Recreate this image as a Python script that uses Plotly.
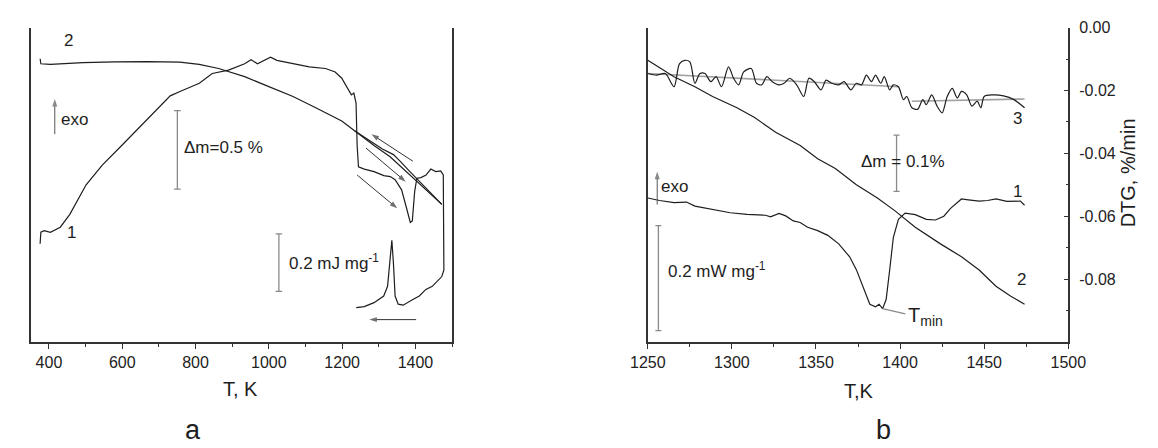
import plotly.graph_objects as go

# ---------------- data: panel a (arbitrary signal units) ----------------
a_dsc_T = [376, 378, 387, 404, 431, 457, 501.5, 545.6, 598.6, 633.9, 669, 704.5, 731, 757.5, 810.4,
           845.7, 890, 934, 951.5, 969, 987, 1004.6, 1022, 1066, 1110.5, 1154.6, 1181, 1199, 1217, 1225.2,
           1232, 1238, 1241, 1244.6, 1260.5, 1287, 1313.7, 1331.4, 1344.6, 1362.3, 1375.5, 1386, 1391.5, 1398, 1404,
           1415, 1429, 1442, 1455.5, 1468.8, 1476, 1477.7, 1472, 1463.6, 1446, 1428.5, 1410.6, 1393, 1366.5, 1353,
           1344.6, 1340, 1335.7, 1329.8, 1324, 1313.5, 1287, 1260.5, 1238.5]
a_dsc_y = [31.25, 34.9, 35.4, 34.9, 36.5, 40.6, 50, 56.25, 62.5, 66.7, 70.8, 75, 78.3, 79.7, 82.3,
           85.4, 86.5, 88.5, 89.8, 88.5, 89.6, 90.6, 89.6, 88.5, 87.5, 87, 85.9, 83.9, 80.2, 78.6,
           79.2, 76, 62.5, 55.7, 55, 54.2, 52.9, 52.6, 51.6, 48.4, 42.7, 38, 38.5, 47.9, 52.1,
           52.3, 53.1, 55, 54.2, 54.4, 53.1, 22.9, 20.8, 19.8, 17.7, 16.7, 14.6, 13.5, 11.7, 12,
           14.6, 25, 32.3, 25, 17.7, 14.6, 12.5, 11.25, 10.9]

a_tg_heat_T = [376, 378, 404, 493, 581, 669, 757, 810, 863, 934, 1000, 1066, 1128, 1199, 1234, 1287, 1331, 1375, 1420, 1472]
a_tg_heat_y = [90.1, 88.5, 88.3, 88.9, 89.1, 89.2, 89.0, 88.3, 87.0, 84.4, 81.25, 78.1, 74.5, 70.3, 67.2, 62.5, 58.9, 54.2, 49.5, 43.75]
a_tg_cool_T = [1472, 1420, 1385, 1360, 1340, 1310, 1280, 1250, 1234]
a_tg_cool_y = [43.75, 50.2, 54.2, 57.3, 59.6, 61.4, 63.6, 66.0, 67.2]

a_xticks = [400, 600, 800, 1000, 1200, 1400]

# ---------------- data: panel b ----------------
b_dtg_T = [1250, 1255.2, 1260.4, 1265.6, 1268.8, 1271.9, 1275, 1278, 1281, 1284, 1287.5, 1290.6, 1293.8, 1298,
           1301, 1304, 1307, 1311.5, 1314.6, 1317.7, 1320.8, 1324, 1328, 1331, 1334.4, 1338.5, 1342.7, 1345.8,
           1349, 1353, 1356, 1359.4, 1363.5, 1366.7, 1370.8, 1374, 1377, 1380, 1383, 1385.4, 1388.5, 1390.6,
           1393.8, 1396, 1399, 1402, 1404, 1407, 1410.4, 1413.5, 1415.6, 1418.8, 1422, 1425, 1428, 1431, 1434,
           1436.5, 1439.6, 1442.7, 1445.8, 1448, 1450, 1455, 1461.5, 1467.7, 1474]
b_dtg_v = [-0.0146, -0.0151, -0.0146, -0.0188, -0.0115, -0.0104, -0.0109, -0.0177, -0.0146, -0.0146, -0.0172,
           -0.0156, -0.0188, -0.0125, -0.0161, -0.0182, -0.0141, -0.0130, -0.0177, -0.0182, -0.0156, -0.0172,
           -0.0182, -0.0177, -0.0161, -0.0182, -0.0219, -0.0161, -0.0172, -0.0198, -0.0167, -0.0177, -0.0182,
           -0.0172, -0.0198, -0.0177, -0.0182, -0.0151, -0.0172, -0.0151, -0.0177, -0.0156, -0.0198, -0.0182,
           -0.0188, -0.0229, -0.0219, -0.0255, -0.0260, -0.0229, -0.0245, -0.0214, -0.0250, -0.0271, -0.0219,
           -0.0193, -0.0224, -0.0203, -0.0214, -0.0250, -0.0234, -0.0255, -0.0219, -0.0214, -0.0217, -0.0229,
           -0.0255]
b_fit1_T = [1250, 1399]
b_fit1_v = [-0.0146, -0.0188]
b_fit2_T = [1407, 1474]
b_fit2_v = [-0.0234, -0.0227]

b_tg_T = [1250, 1265.6, 1278, 1288.5, 1303, 1313.5, 1326, 1340.6, 1351, 1361.5, 1374, 1386.5, 1397, 1409,
          1424, 1436.5, 1447, 1457, 1465.6, 1474]
b_tg_v = [-0.0104, -0.0156, -0.0188, -0.0219, -0.0255, -0.0286, -0.0333, -0.0375, -0.0417, -0.0448, -0.0500,
          -0.0542, -0.0583, -0.0635, -0.0688, -0.0729, -0.0771, -0.0823, -0.0854, -0.0880]

b_dsc_T = [1250, 1257, 1265.6, 1273, 1278, 1288.5, 1299, 1309, 1320, 1323, 1328, 1332, 1336.5, 1340.6, 1345,
           1351, 1357, 1363.5, 1370, 1374, 1378, 1382, 1385.4, 1387.5, 1389.6, 1391.7, 1393.8, 1396, 1399, 1403,
           1409, 1415.6, 1421, 1426, 1430, 1436.5, 1440.6, 1447, 1452, 1457, 1463.5, 1471.5, 1474]
b_dsc_v = [-0.0542, -0.0550, -0.0557, -0.0555, -0.0568, -0.0578, -0.0589, -0.0594, -0.0597, -0.0602, -0.0591,
           -0.0599, -0.0615, -0.0620, -0.0635, -0.0646, -0.0661, -0.0688, -0.0729, -0.0770, -0.0823, -0.0880,
           -0.0888, -0.0880, -0.0894, -0.0865, -0.0771, -0.0667, -0.0610, -0.0590, -0.0595, -0.0610, -0.0612,
           -0.0600, -0.0575, -0.0545, -0.0548, -0.0552, -0.0550, -0.0545, -0.0553, -0.0552, -0.0565]

b_xticks = [1250, 1300, 1350, 1400, 1450, 1500]
b_yticks = [0.0, -0.02, -0.04, -0.06, -0.08]
b_yticktext = ["0.00", "-0.02", "-0.04", "-0.06", "-0.08"]

# ---------------- layout helpers ----------------
W, H = 1158, 448
def fx(p): return p / W
def fy(p): return 1 - p / H

INK = "#1e1e1e"
GRAY = "#8a8a8a"
FONT = "Liberation Sans, Arial, sans-serif"

fig = go.Figure()

def line(x, y, xa, ya, color=INK, width=1.2, shape="linear"):
    fig.add_trace(go.Scatter(x=x, y=y, xaxis=xa, yaxis=ya, mode="lines",
                             line=dict(color=color, width=width, shape=shape, smoothing=0.8),
                             hoverinfo="skip", showlegend=False))

# panel a
line(a_dsc_T, a_dsc_y, "x", "y")
line(a_tg_heat_T, a_tg_heat_y, "x", "y")
line(a_tg_cool_T, a_tg_cool_y, "x", "y")
# panel b
line(b_fit1_T, b_fit1_v, "x2", "y2", color="#a0a0a0", width=1.6)
line(b_fit2_T, b_fit2_v, "x2", "y2", color="#a0a0a0", width=1.6)
line(b_dtg_T, b_dtg_v, "x2", "y2", shape="spline")
line(b_tg_T, b_tg_v, "x2", "y2")
line(b_dsc_T, b_dsc_v, "x2", "y2")

# scale bars: (x, y_low, y_high, cap half width)
a_bars = [(750.4, 48.6, 73.6, 9), (1027.5, 16.1, 34.4, 9)]
b_bars = [(1397.9, -0.0521, -0.0342, 1.8), (1256.3, -0.0964, -0.0630, 1.8)]
for (xs, ya_, yb_, hw), (xr, yr) in [(b, ("x", "y")) for b in a_bars] + [(b, ("x2", "y2")) for b in b_bars]:
    for seg in [(xs, ya_, xs, yb_), (xs - hw, ya_, xs + hw, ya_), (xs - hw, yb_, xs + hw, yb_)]:
        fig.add_shape(type="line", xref=xr, yref=yr, x0=seg[0], y0=seg[1], x1=seg[2], y1=seg[3],
                      line=dict(color=GRAY, width=1.3))

# Tmin leader line
fig.add_shape(type="line", xref="x2", yref="y2", x0=1389.6, y0=-0.0894, x1=1403.1, y1=-0.0911,
              line=dict(color=GRAY, width=1.2))

# arrows: (tail_x, tail_y, head_x, head_y)
def arrow(tx, ty, hx, hy, xa, ya, color="#333333"):
    fig.add_trace(go.Scatter(x=[tx, hx], y=[ty, hy], xaxis=xa, yaxis=ya, mode="lines+markers",
                             line=dict(color=color, width=1),
                             marker=dict(symbol=["circle", "arrow"], size=[0, 8], angleref="previous",
                                         color=color, line=dict(width=0)),
                             hoverinfo="skip", showlegend=False))

arrow(416, 66.1, 416, 77.3, "x", "y", color="#555555")
arrow(1393, 57.5, 1280, 66.1, "x", "y")
arrow(1265, 61.7, 1373.6, 51.0, "x", "y")
arrow(1241, 53.1, 1350.6, 42.5, "x", "y")
arrow(1402, 7.1, 1274, 7.1, "x", "y")
arrow(1255.6, -0.0563, 1255.6, -0.0458, "x2", "y2", color="#555555")

def text(x, y, s, xr, yr, size=17, xanchor="left", yanchor="middle", angle=0):
    fig.add_annotation(x=x, y=y, xref=xr, yref=yr, text=s, showarrow=False, xanchor=xanchor,
                       yanchor=yanchor, textangle=angle, borderpad=0,
                       font=dict(family=FONT, size=size, color=INK))

# panel a texts
text(431, 70.8, "exo", "x", "y")
text(766, 62, "Δm=0.5 %", "x", "y")
text(1053, 25.5, "0.2 mJ mg<sup>-1</sup>", "x", "y")
text(453, 95.8, "2", "x", "y", xanchor="center")
text(462, 34.9, "1", "x", "y", xanchor="center")
# panel b texts
text(1257.3, -0.0505, "exo", "x2", "y2")
text(1261.5, -0.0770, "0.2 mW mg<sup>-1</sup>", "x2", "y2")
text(1402, -0.0427, "Δm = 0.1%", "x2", "y2", xanchor="center")
text(1404, -0.0918, "T<sub>min</sub>", "x2", "y2", size=20)
text(1469.8, -0.0290, "3", "x2", "y2", xanchor="center")
text(1469.8, -0.0520, "1", "x2", "y2", xanchor="center")
text(1472, -0.0800, "2", "x2", "y2", xanchor="center")

# axis titles and panel letters (paper coords)
text(fx(230), fy(388), "T, K", "paper", "paper", size=20, xanchor="center")
text(fx(868), fy(390), "T,K", "paper", "paper", size=20, xanchor="center")
text(fx(181), fy(446), "a", "paper", "paper", size=27, xanchor="center", yanchor="bottom")
text(fx(893), fy(446), "b", "paper", "paper", size=27, xanchor="center", yanchor="bottom")
text(fx(1146), fy(168), "DTG, %/min", "paper", "paper", size=20, xanchor="center", angle=-90)

tickfont = dict(family=FONT, size=16, color="#222222")
axline = dict(showline=True, linecolor="#333333", linewidth=1.5, showgrid=False, zeroline=False)

fig.update_layout(
    width=W, height=H, margin=dict(l=0, r=0, t=0, b=0),
    paper_bgcolor="white", plot_bgcolor="white", showlegend=False,
    xaxis=dict(domain=[fx(13), fx(448)], range=[350, 1500], tickvals=a_xticks, ticks="outside",
               ticklen=5, tickwidth=1.2, tickcolor="#333333", tickfont=tickfont,
               minor=dict(dtick=100, tick0=300, ticks="outside", ticklen=3, tickcolor="#333333", tickwidth=1.2),
               anchor="y", **axline),
    yaxis=dict(domain=[fy(340), fy(20)], range=[0, 100], showticklabels=False, ticks="",
               mirror=True, anchor="x", **axline),
    xaxis2=dict(domain=[fx(650), fx(1084)], range=[1250, 1500], tickvals=b_xticks, ticks="outside",
                ticklen=5, tickwidth=1.2, tickcolor="#333333", tickfont=tickfont,
                minor=dict(dtick=25, tick0=1250, ticks="outside", ticklen=3, tickcolor="#333333", tickwidth=1.2),
                anchor="y2", **axline),
    yaxis2=dict(domain=[fy(340), fy(20)], range=[-0.1, 0], side="right", tickvals=b_yticks,
                ticktext=b_yticktext, ticks="inside", ticklen=5, tickwidth=1.2, tickcolor="#333333",
                tickfont=tickfont, ticklabelstandoff=6,
                minor=dict(dtick=0.01, tick0=0, ticks="inside", ticklen=3, tickcolor="#333333", tickwidth=1.2),
                mirror=True, anchor="x2", **axline),
)

fig.write_html("out.html", config={"displayModeBar": False},
               post_script="document.body.style.margin='0px';document.body.style.overflow='hidden';")
